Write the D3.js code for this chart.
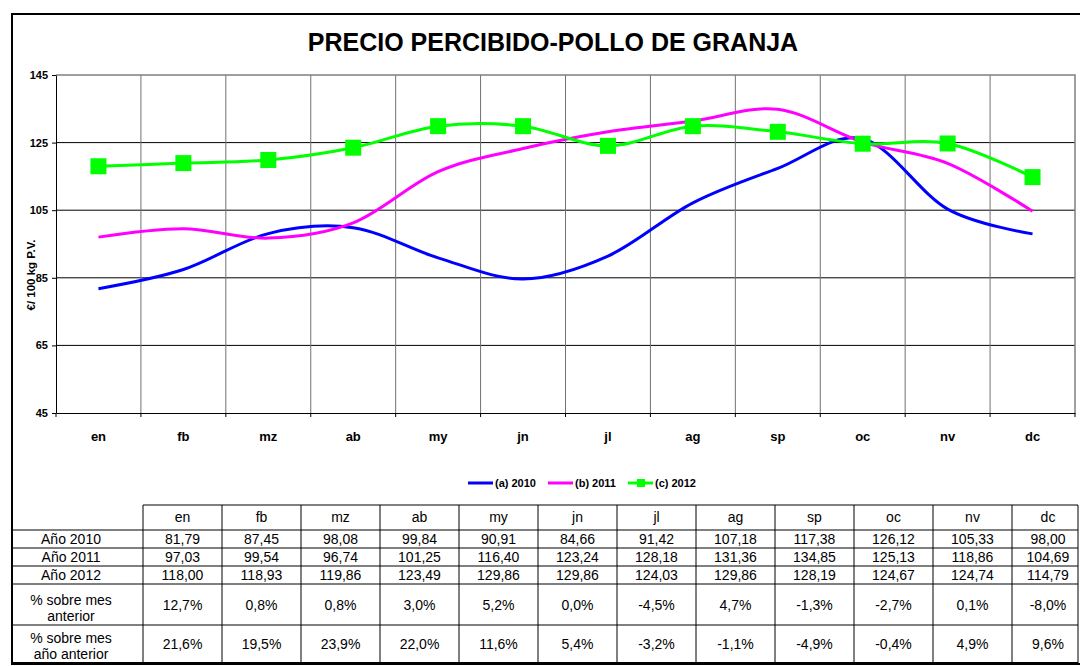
<!DOCTYPE html>
<html>
<head>
<meta charset="utf-8">
<script src="https://cdn.jsdelivr.net/npm/d3@7"></script>
<style>
  body { margin: 0; background: #fff; }
  svg { display: block; font-family: "Liberation Sans", Arial, sans-serif; }
</style>
</head>
<body>
<div id="chart"></div>
<script>
const months = ["en", "fb", "mz", "ab", "my", "jn", "jl", "ag", "sp", "oc", "nv", "dc"];
const values2010 = [81.79, 87.45, 98.08, 99.84, 90.91, 84.66, 91.42, 107.18, 117.38, 126.12, 105.33, 98.00];
const values2011 = [97.03, 99.54, 96.74, 101.25, 116.40, 123.24, 128.18, 131.36, 134.85, 125.13, 118.86, 104.69];
const values2012 = [118.00, 118.93, 119.86, 123.49, 129.86, 129.86, 124.03, 129.86, 128.19, 124.67, 124.74, 114.79];
const pctMesAnterior = [12.7, 0.8, 0.8, 3.0, 5.2, 0.0, -4.5, 4.7, -1.3, -2.7, 0.1, -8.0];
const pctAnioAnterior = [21.6, 19.5, 23.9, 22.0, 11.6, 5.4, -3.2, -1.1, -4.9, -0.4, 4.9, 9.6];
const yTicks = [45, 65, 85, 105, 125, 145];
const seriesNames = ["(a) 2010", "(b) 2011", "(c) 2012"];
const rowLabels = ["Año 2010", "Año 2011", "Año 2012"];

const width = 1080, height = 666;
const colors = ["#0000ff", "#ff00ff", "#00ff00"];

const svg = d3.select("#chart").append("svg")
  .attr("width", width).attr("height", height);

// outer chart border
svg.append("rect")
  .attr("x", 12).attr("y", 14)
  .attr("width", 1090).attr("height", 650)
  .attr("fill", "#fff").attr("stroke", "#000").attr("stroke-width", 2);

svg.append("text")
  .attr("x", 553).attr("y", 51)
  .attr("text-anchor", "middle")
  .attr("font-size", 25).attr("font-weight", "bold")
  .text("PRECIO PERCIBIDO-POLLO DE GRANJA");

// scales
let x = d3.scaleBand().domain(months).range([56, 1075]);
let y = d3.scaleLinear().domain([45, 145]).range([413, 75]);

// grid
svg.append("g").selectAll("line")
  .data(yTicks.slice(1, -1))
  .enter().append("line")
  .attr("x1", 56).attr("x2", 1075)
  .attr("y1", d => y(d)).attr("y2", d => y(d))
  .attr("stroke", "#000").attr("stroke-width", 1);

svg.append("g").selectAll("line")
  .data(months.slice(1))
  .enter().append("line")
  .attr("x1", d => x(d)).attr("x2", d => x(d))
  .attr("y1", y(145)).attr("y2", y(45))
  .attr("stroke", "#707070").attr("stroke-width", 1);

// plot border top/right
svg.append("path")
  .attr("d", `M56,${y(145)}H1075V${y(45)}`)
  .attr("fill", "none").attr("stroke", "#808080").attr("stroke-width", 1.5);

// y axis
let yAxis = svg.append("g")
  .attr("transform", "translate(56,0)")
  .call(d3.axisLeft(y).tickValues(yTicks).tickSize(4).tickSizeOuter(0));
yAxis.select(".domain").attr("stroke", "#000");
yAxis.selectAll("text")
  .attr("font-size", 11).attr("font-weight", "bold")
  .attr("font-family", "Liberation Sans, Arial, sans-serif")
  .attr("fill", "#000").attr("x", -8);

// x axis
let xAxis = svg.append("g")
  .attr("transform", `translate(0,${y(45)})`)
  .call(d3.axisBottom(x).tickSize(0).tickSizeOuter(0));
xAxis.select(".domain").attr("stroke", "#000");
xAxis.selectAll("text")
  .attr("font-size", 13).attr("font-weight", "bold")
  .attr("font-family", "Liberation Sans, Arial, sans-serif")
  .attr("fill", "#000").attr("dy", "1.9em");
svg.append("g").selectAll("line")
  .data(months.concat(["_end"]))
  .enter().append("line")
  .attr("x1", (d, i) => 56 + i * x.bandwidth())
  .attr("x2", (d, i) => 56 + i * x.bandwidth())
  .attr("y1", y(45)).attr("y2", y(45) + 4)
  .attr("stroke", "#000");

svg.append("text")
  .attr("transform", "translate(35,275) rotate(-90)")
  .attr("text-anchor", "middle")
  .attr("font-size", 11.5).attr("font-weight", "bold")
  .text("€/ 100 kg P.V.");

// lines
const line = d3.line()
  .x((d, i) => x(months[i]) + x.bandwidth() / 2)
  .y(d => y(d))
  .curve(d3.curveCardinal.tension(0));

[values2010, values2011, values2012].forEach((vals, k) => {
  svg.append("path")
    .datum(vals)
    .attr("d", line)
    .attr("fill", "none")
    .attr("stroke", colors[k])
    .attr("stroke-width", 3);
});

svg.append("g").selectAll("rect")
  .data(values2012)
  .enter().append("rect")
  .attr("x", (d, i) => x(months[i]) + x.bandwidth() / 2 - 8)
  .attr("y", d => y(d) - 8)
  .attr("width", 16).attr("height", 16)
  .attr("fill", "#00ff00");

// legend
const legendX = [468, 548, 628];
let legend = svg.append("g").selectAll("g")
  .data(seriesNames)
  .enter().append("g")
  .attr("transform", (d, i) => `translate(${legendX[i]},483)`);
legend.append("line")
  .attr("x1", 0).attr("x2", 25)
  .attr("stroke", (d, i) => colors[i]).attr("stroke-width", 3);
legend.filter((d, i) => i === 2).append("rect")
  .attr("x", 9).attr("y", -4).attr("width", 8).attr("height", 8)
  .attr("fill", "#00ff00");
legend.append("text")
  .attr("x", 27).attr("y", 4)
  .attr("font-size", 11).attr("font-weight", "bold")
  .text(d => d);

// data table
const tableLeft = 12, firstCol = 143, tableRight = 1078;
let col = d3.scaleBand().domain(months).range([firstCol, firstCol + 79 * 12]);
const rowY = [505, 530, 548, 566, 584, 625, 663];
const fmtNum = v => d3.format(".2f")(v).replace(".", ",");
const fmtPct = v => d3.format(".1f")(v).replace(".", ",").replace("\u2212", "-") + "%";

let table = svg.append("g").attr("font-size", 14).attr("fill", "#000");

// horizontal lines
table.append("line")
  .attr("x1", firstCol).attr("x2", tableRight)
  .attr("y1", rowY[0]).attr("y2", rowY[0]).attr("stroke", "#000");
table.selectAll("line.h")
  .data(rowY.slice(1))
  .enter().append("line")
  .attr("class", "h")
  .attr("x1", tableLeft).attr("x2", tableRight)
  .attr("y1", d => d).attr("y2", d => d)
  .attr("stroke", "#000").attr("stroke-width", (d, i) => i === rowY.length - 2 ? 2 : 1);
// vertical lines
table.selectAll("line.v")
  .data(months)
  .enter().append("line")
  .attr("class", "v")
  .attr("x1", d => col(d)).attr("x2", d => col(d))
  .attr("y1", rowY[0]).attr("y2", rowY[6])
  .attr("stroke", "#000");
table.append("line")
  .attr("x1", tableRight).attr("x2", tableRight)
  .attr("y1", rowY[0]).attr("y2", rowY[6])
  .attr("stroke", "#000");

const colX = m => (m === "dc" ? 1048 : col(m) + col.bandwidth() / 2);

// header
table.selectAll("text.hd")
  .data(months)
  .enter().append("text")
  .attr("class", "hd")
  .attr("x", d => colX(d))
  .attr("y", (rowY[0] + rowY[1]) / 2 + 4)
  .attr("text-anchor", "middle")
  .text(d => d);

[values2010, values2011, values2012].forEach((vals, r) => {
  let cy = (rowY[r + 1] + rowY[r + 2]) / 2 + 5;
  table.append("text")
    .attr("x", 71).attr("y", cy).attr("text-anchor", "middle")
    .text(rowLabels[r]);
  table.selectAll(null)
    .data(vals)
    .enter().append("text")
    .attr("x", (d, i) => colX(months[i]))
    .attr("y", cy).attr("text-anchor", "middle")
    .text(d => fmtNum(d));
});

[[pctMesAnterior, ["% sobre mes", "anterior"]], [pctAnioAnterior, ["% sobre mes", "año anterior"]]]
  .forEach(([vals, label], r) => {
    let top = rowY[r + 4], bot = rowY[r + 5];
    let cy = (top + bot) / 2 + 5;
    table.append("text")
      .attr("x", 71).attr("y", bot - 20).attr("text-anchor", "middle")
      .text(label[0]);
    table.append("text")
      .attr("x", 71).attr("y", bot - 4).attr("text-anchor", "middle")
      .text(label[1]);
    table.selectAll(null)
      .data(vals)
      .enter().append("text")
      .attr("x", (d, i) => colX(months[i]))
      .attr("y", cy).attr("text-anchor", "middle")
      .text(d => fmtPct(d));
  });
</script>
</body>
</html>
